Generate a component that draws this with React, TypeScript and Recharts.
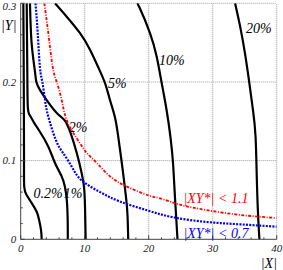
import { Line, LineChart, ReferenceDot, ReferenceLine, XAxis, YAxis } from 'recharts'

type Pt = { x: number; y: number }

// tick positions (minor + major) and grid lines
const X_TICKS = [0, 2, 4, 6, 8, 10, 12, 14, 16, 18, 20, 22, 24, 26, 28, 30, 32, 34, 36, 38, 40]
const Y_TICKS = [0, 0.02, 0.04, 0.06, 0.08, 0.1, 0.12, 0.14, 0.16, 0.18, 0.2, 0.22, 0.24, 0.26, 0.28, 0.3]
const X_GRID = [10, 20, 30, 40]
const Y_GRID = [0.1, 0.2, 0.3]

// contours
const CONTOUR_02: Pt[] = [
  { x: 0.41, y: 0.3 }, { x: 0.45, y: 0.25 }, { x: 0.48, y: 0.2 }, { x: 0.5, y: 0.15 },
  { x: 0.52, y: 0.1 }, { x: 0.55, y: 0.067 }, { x: 0.94, y: 0.056 }, { x: 1.72, y: 0.046 },
  { x: 2.5, y: 0.035 }, { x: 2.86, y: 0.025 }, { x: 3.17, y: 0.012 }, { x: 3.28, y: 0 },
]
const CONTOUR_1: Pt[] = [
  { x: 0.94, y: 0.3 }, { x: 0.98, y: 0.26 }, { x: 1.03, y: 0.215 }, { x: 1.1, y: 0.17 },
  { x: 1.4, y: 0.158 }, { x: 2.1, y: 0.148 }, { x: 2.9, y: 0.138 }, { x: 4.3, y: 0.118 },
  { x: 5.36, y: 0.097 }, { x: 6.4, y: 0.08 }, { x: 6.9, y: 0.067 }, { x: 7.2, y: 0.05 },
  { x: 7.34, y: 0.025 }, { x: 7.36, y: 0 },
]
const CONTOUR_2: Pt[] = [
  { x: 1.45, y: 0.3 }, { x: 1.7, y: 0.25 }, { x: 2.2, y: 0.215 }, { x: 2.45, y: 0.2 },
  { x: 3.0, y: 0.19 }, { x: 4.06, y: 0.177 }, { x: 5.6, y: 0.161 }, { x: 6.9, y: 0.151 },
  { x: 7.4, y: 0.143 }, { x: 7.8, y: 0.135 }, { x: 8.75, y: 0.11 }, { x: 9.53, y: 0.084 },
  { x: 9.9, y: 0.066 }, { x: 10.05, y: 0.041 }, { x: 10.15, y: 0 },
]
const CONTOUR_5: Pt[] = [
  { x: 5.36, y: 0.3 }, { x: 7.19, y: 0.283 }, { x: 9.27, y: 0.262 }, { x: 10.83, y: 0.241 },
  { x: 12.1, y: 0.219 }, { x: 13.2, y: 0.198 }, { x: 13.95, y: 0.177 }, { x: 14.7, y: 0.156 },
  { x: 15.25, y: 0.13 }, { x: 15.8, y: 0.097 }, { x: 16.45, y: 0.054 }, { x: 16.7, y: 0.029 },
  { x: 16.8, y: 0 },
]
const CONTOUR_10: Pt[] = [
  { x: 18.1, y: 0.3 }, { x: 18.6, y: 0.294 }, { x: 20.2, y: 0.262 }, { x: 21.25, y: 0.232 },
  { x: 22.0, y: 0.2 }, { x: 22.8, y: 0.164 }, { x: 23.4, y: 0.13 }, { x: 23.8, y: 0.097 },
  { x: 24.1, y: 0.054 }, { x: 24.5, y: 0 },
]
const CONTOUR_20: Pt[] = [
  { x: 33.5, y: 0.3 }, { x: 34.3, y: 0.27 }, { x: 35.05, y: 0.236 }, { x: 35.7, y: 0.2 },
  { x: 36.3, y: 0.164 }, { x: 36.7, y: 0.13 }, { x: 36.9, y: 0.075 }, { x: 37.1, y: 0.029 },
  { x: 37.3, y: 0 },
]

// |XY*| limits
const LIMIT_11: Pt[] = [
  { x: 3.69, y: 0.3 }, { x: 4.31, y: 0.262 }, { x: 5.0, y: 0.219 }, { x: 5.63, y: 0.2 },
  { x: 6.4, y: 0.177 }, { x: 7.0, y: 0.156 }, { x: 8.0, y: 0.138 }, { x: 9.27, y: 0.122 },
  { x: 10.3, y: 0.11 }, { x: 11.9, y: 0.097 }, { x: 13.95, y: 0.08 }, { x: 16.6, y: 0.067 },
  { x: 19.9, y: 0.056 }, { x: 21.8, y: 0.052 }, { x: 24.9, y: 0.044 }, { x: 29.1, y: 0.037 },
  { x: 34.3, y: 0.031 }, { x: 40, y: 0.027 },
]
const LIMIT_07: Pt[] = [
  { x: 2.31, y: 0.3 }, { x: 2.66, y: 0.262 }, { x: 3.0, y: 0.219 }, { x: 3.38, y: 0.2 },
  { x: 3.8, y: 0.177 }, { x: 4.31, y: 0.156 }, { x: 5.5, y: 0.126 }, { x: 6.6, y: 0.11 },
  { x: 8.0, y: 0.092 }, { x: 9.5, y: 0.075 }, { x: 12.4, y: 0.06 }, { x: 15.5, y: 0.048 },
  { x: 19.7, y: 0.037 }, { x: 23.8, y: 0.028 }, { x: 29.1, y: 0.022 }, { x: 34.3, y: 0.019 },
  { x: 40, y: 0.016 },
]

const CONTOURS = [
  { name: '0.2%', data: CONTOUR_02 },
  { name: '1%', data: CONTOUR_1 },
  { name: '2%', data: CONTOUR_2 },
  { name: '5%', data: CONTOUR_5 },
  { name: '10%', data: CONTOUR_10 },
  { name: '20%', data: CONTOUR_20 },
]

const ROJO = '#ff0000'
const AZUL = '#0000ff'

// annotation anchors (centre of text, in data units)
const LABELS = [
  { text: '0.2%', x: 4.27, y: 0.059, color: '#000' },
  { text: '1%', x: 8.17, y: 0.059, color: '#000' },
  { text: '2%', x: 8.95, y: 0.143, color: '#000' },
  { text: '5%', x: 15.1, y: 0.199, color: '#000' },
  { text: '10%', x: 23.6, y: 0.228, color: '#000' },
  { text: '20%', x: 37.2, y: 0.269, color: '#000' },
  { text: '|XY*| < 1.1', x: 30.5, y: 0.053, color: ROJO },
  { text: '|XY*| < 0.7', x: 30.5, y: 0.0086, color: AZUL },
]

const FUENTE = "'Liberation Serif', 'DejaVu Serif', serif"
const EJE = '#444'

function XTick({ x, y, payload }: any) {
  const v = payload.value as number
  const mayor = Math.abs(v % 10) < 1e-6
  return (
    <g>
      <line x1={x} x2={x} y1={y} y2={y - (mayor ? 4 : 2)} stroke={EJE} />
      {mayor && (
        <text x={x} y={y + 12.5} textAnchor="middle" fontSize={11} fontStyle="italic" fontFamily={FUENTE} fill="#222">
          {v}
        </text>
      )}
    </g>
  )
}

function YTick({ x, y, payload }: any) {
  const v = payload.value as number
  const mayor = Math.abs(v * 10 - Math.round(v * 10)) < 1e-6
  return (
    <g>
      <line x1={x} x2={x + (mayor ? 4 : 2)} y1={y} y2={y} stroke={EJE} />
      {mayor && (
        // el rótulo superior se baja un poco para que no quede cortado
        <text x={x - 4.5} y={Math.max(y + 3.7, 10)} textAnchor="end" fontSize={11} fontStyle="italic" fontFamily={FUENTE} fill="#222">
          {Math.round(v * 10) / 10}
        </text>
      )}
    </g>
  )
}

export default function App() {
  return (
    <div style={{ position: 'absolute', left: 0, top: 0, background: '#fff' }}>
      <LineChart width={283} height={270} margin={{ top: 3.3, right: 6.3, bottom: 0, left: 0 }}>
        <XAxis
          dataKey="x"
          type="number"
          domain={[0, 40]}
          ticks={X_TICKS}
          interval={0}
          allowDataOverflow
          tickLine={false}
          tickSize={0}
          tickMargin={0}
          tick={<XTick />}
          axisLine={{ stroke: EJE }}
          height={30.7}
        />
        <YAxis
          type="number"
          domain={[0, 0.3]}
          ticks={Y_TICKS}
          interval={0}
          allowDataOverflow
          tickLine={false}
          tickSize={0}
          tickMargin={0}
          tick={<YTick />}
          axisLine={{ stroke: EJE }}
          width={20.7}
        />
        {X_GRID.map((g) => (
          <ReferenceLine key={'x' + g} x={g} stroke="#999" strokeDasharray="1 1" />
        ))}
        {Y_GRID.map((g) => (
          <ReferenceLine key={'y' + g} y={g} stroke="#999" strokeDasharray="1 1" />
        ))}
        {CONTOURS.map((c) => (
          <Line
            key={c.name}
            name={c.name}
            data={c.data}
            dataKey="y"
            type="natural"
            stroke="#000"
            strokeWidth={2.2}
            dot={false}
            activeDot={false}
            isAnimationActive={false}
          />
        ))}
        <Line
          name="|XY*| < 1.1"
          data={LIMIT_11}
          dataKey="y"
          type="natural"
          stroke={ROJO}
          strokeWidth={1.8}
          strokeDasharray="3 1.5 1 1.5"
          dot={false}
          activeDot={false}
          isAnimationActive={false}
        />
        <Line
          name="|XY*| < 0.7"
          data={LIMIT_07}
          dataKey="y"
          type="natural"
          stroke={AZUL}
          strokeWidth={2.2}
          strokeDasharray="2 1.3"
          dot={false}
          activeDot={false}
          isAnimationActive={false}
        />
        {LABELS.map((l) => (
          <ReferenceDot
            key={l.text}
            x={l.x}
            y={l.y}
            r={0}
            fill="none"
            stroke="none"
            label={{
              value: l.text,
              position: 'center',
              fill: l.color,
              fontSize: 14,
              fontStyle: 'italic',
              fontFamily: FUENTE,
            }}
          />
        ))}
        <text x={1} y={30} fontSize={14} fontStyle="italic" fontFamily={FUENTE} fill="#000">
          |Y|
        </text>
        <text x={277} y={268} textAnchor="end" fontSize={14} fontStyle="italic" fontFamily={FUENTE} fill="#000">
          |X|
        </text>
      </LineChart>
    </div>
  )
}
